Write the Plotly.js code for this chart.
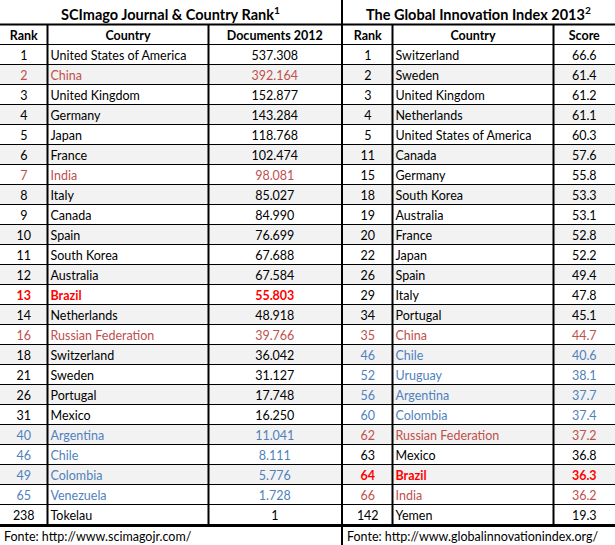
<!DOCTYPE html>
<html>
<head>
<meta charset="utf-8">
<script src="https://cdn.plot.ly/plotly-3.0.1.min.js"></script>
<style>
  html, body { margin:0; padding:0; background:#fff; }
  #chart { width:615px; height:545px; }
</style>
</head>
<body>
<div id="chart"></div>
<script>
// SCImago Journal & Country Rank
const sjrRank = [1,2,3,4,5,6,7,8,9,10,11,12,13,14,16,18,21,26,31,40,46,49,65,238];
const sjrCountry = ["United States of America","China","United Kingdom","Germany","Japan","France","India","Italy","Canada","Spain","South Korea","Australia","Brazil","Netherlands","Russian Federation","Switzerland","Sweden","Portugal","Mexico","Argentina","Chile","Colombia","Venezuela","Tokelau"];
const sjrDocs = [537308,392164,152877,143284,118768,102474,98081,85027,84990,76699,67688,67584,55803,48918,39766,36042,31127,17748,16250,11041,8111,5776,1728,1];

// Global Innovation Index 2013
const giiRank = [1,2,3,4,5,11,15,18,19,20,22,26,29,34,35,46,52,56,60,62,63,64,66,142];
const giiCountry = ["Switzerland","Sweden","United Kingdom","Netherlands","United States of America","Canada","Germany","South Korea","Australia","France","Japan","Spain","Italy","Portugal","China","Chile","Uruguay","Argentina","Colombia","Russian Federation","Mexico","Brazil","India","Yemen"];
const giiScore = [66.6,61.4,61.2,61.1,60.3,57.6,55.8,53.3,53.1,52.8,52.2,49.4,47.8,45.1,44.7,40.6,38.1,37.7,37.4,37.2,36.8,36.3,36.2,19.3];

const brics = ["China","India","Russian Federation"];
const latam = ["Argentina","Chile","Colombia","Venezuela","Uruguay"];

const W = 615, H = 545;
const FONT = "Lato, 'Open Sans', sans-serif";
const FS = 12.5;
const NUDGE = 0.1; // text sits a little low in the cell, like Excel

const dots = n => String(n).replace(/\B(?=(\d{3})+(?!\d))/g, ".");
const colorOf = c => c === "Brazil" ? "#ff0000" : brics.includes(c) ? "#c0504d" : latam.includes(c) ? "#4f81bd" : "#000000";
const bold = (c, s) => c === "Brazil" ? `<b>${s}</b>` : String(s);

// column edges in px: [left, rank|country, country|value, right]
const leftCols  = [0, 47.5, 208.5, 341];
const rightCols = [343, 392.5, 553.5, 615];

function tableTraces(ranks, countries, vals, fmt, cols){
  const n = countries.length;
  const idx = countries.map((_, i) => i);
  const colors = countries.map(colorOf);
  const txt = (x, text, pos) => ({
    type:"scatter", mode:"text", x:idx.map(() => x), y:idx.map(i => i + NUDGE), text, textposition:pos,
    textfont:{family:FONT, size:FS, color:colors}, hoverinfo:"skip", cliponaxis:false
  });
  return [
    {type:"bar", orientation:"h", y:idx, x:idx.map(() => cols[3]-cols[0]), base:cols[0], width:1,
     marker:{color:idx.map(i => (i % 2 === 1 && i < n-1) ? "#f2f2f2" : "#ffffff"), line:{width:0}}, hoverinfo:"skip"},
    txt((cols[0]+cols[1])/2, ranks.map((r,i) => bold(countries[i], r)), "middle center"),
    txt(cols[1]+3, countries.map(c => bold(c, c)), "middle right"),
    txt((cols[2]+cols[3])/2, vals.map((v,i) => bold(countries[i], fmt(v))), "middle center")
  ];
}

function headerTrace(labels, cols){
  return {type:"scatter", mode:"text", x:[(cols[0]+cols[1])/2, (cols[1]+cols[2])/2, (cols[2]+cols[3])/2],
    y:[-1+NUDGE,-1+NUDGE,-1+NUDGE], text:labels.map(l => `<b>${l}</b>`), textposition:"middle center",
    textfont:{family:FONT, size:FS, color:"#000"}, hoverinfo:"skip"};
}

const traces = [
  ...tableTraces(sjrRank, sjrCountry, sjrDocs, dots, leftCols),
  ...tableTraces(giiRank, giiCountry, giiScore, v => v.toFixed(1), rightCols),
  headerTrace(["Rank","Country","Documents 2012"], leftCols),
  headerTrace(["Rank","Country","Score"], rightCols)
];

// borders
const nRows = sjrCountry.length;
const shapes = [];
const hl = (y, w) => shapes.push({type:"line", xref:"x", yref:"y", x0:0, x1:W, y0:y, y1:y, line:{color:"#000", width:w}, layer:"above"});
const vl = (x, y0, y1, w, ref) => shapes.push({type:"line", xref:"x", yref:ref||"y", x0:x, x1:x, y0, y1, line:{color:"#000", width:w}, layer:"above"});
for (let i = -1; i < nRows - 1; i++) hl(i + 0.5, 1);
hl(-1.5, 2);
hl(nRows - 0.5 + 0.05, 3);
[leftCols[1], leftCols[2], rightCols[1], rightCols[2]].forEach(x => vl(x, -1.5, nRows - 0.5));
vl(342, 0, 1, 2, "paper");

const yTop = -2.75 + 0.025, yBot = 24.5 + 0.025;

const layout = {
  width:W, height:H, margin:{l:0,r:0,t:0,b:0},
  paper_bgcolor:"#fff", plot_bgcolor:"#fff",
  showlegend:false, bargap:0, barmode:"overlay",
  font:{family:FONT, size:FS, color:"#000"},
  xaxis:{range:[0, W], visible:false, fixedrange:true},
  yaxis:{range:[yBot, yTop], visible:false, fixedrange:true},
  shapes,
  annotations:[
    {text:"<b>SCImago Journal & Country Rank<sup>1</sup></b>", x:170, y:-2.05, xref:"x", yref:"y", xanchor:"center", yanchor:"middle", showarrow:false, font:{size:14.5}},
    {text:"<b>The Global Innovation Index 2013<sup>2</sup></b>", x:478, y:-2.05, xref:"x", yref:"y", xanchor:"center", yanchor:"middle", showarrow:false, font:{size:14.5}},
    {text:"Fonte: http://www.scimagojr.com/", x:2, y:24.1, xref:"x", yref:"y", xanchor:"left", yanchor:"middle", showarrow:false, font:{size:FS}},
    {text:"Fonte: http://www.globalinnovationindex.org/", x:345, y:24.1, xref:"x", yref:"y", xanchor:"left", yanchor:"middle", showarrow:false, font:{size:FS}}
  ]
};

Plotly.newPlot("chart", traces, layout, {displayModeBar:false, staticPlot:true});
</script>
</body>
</html>
